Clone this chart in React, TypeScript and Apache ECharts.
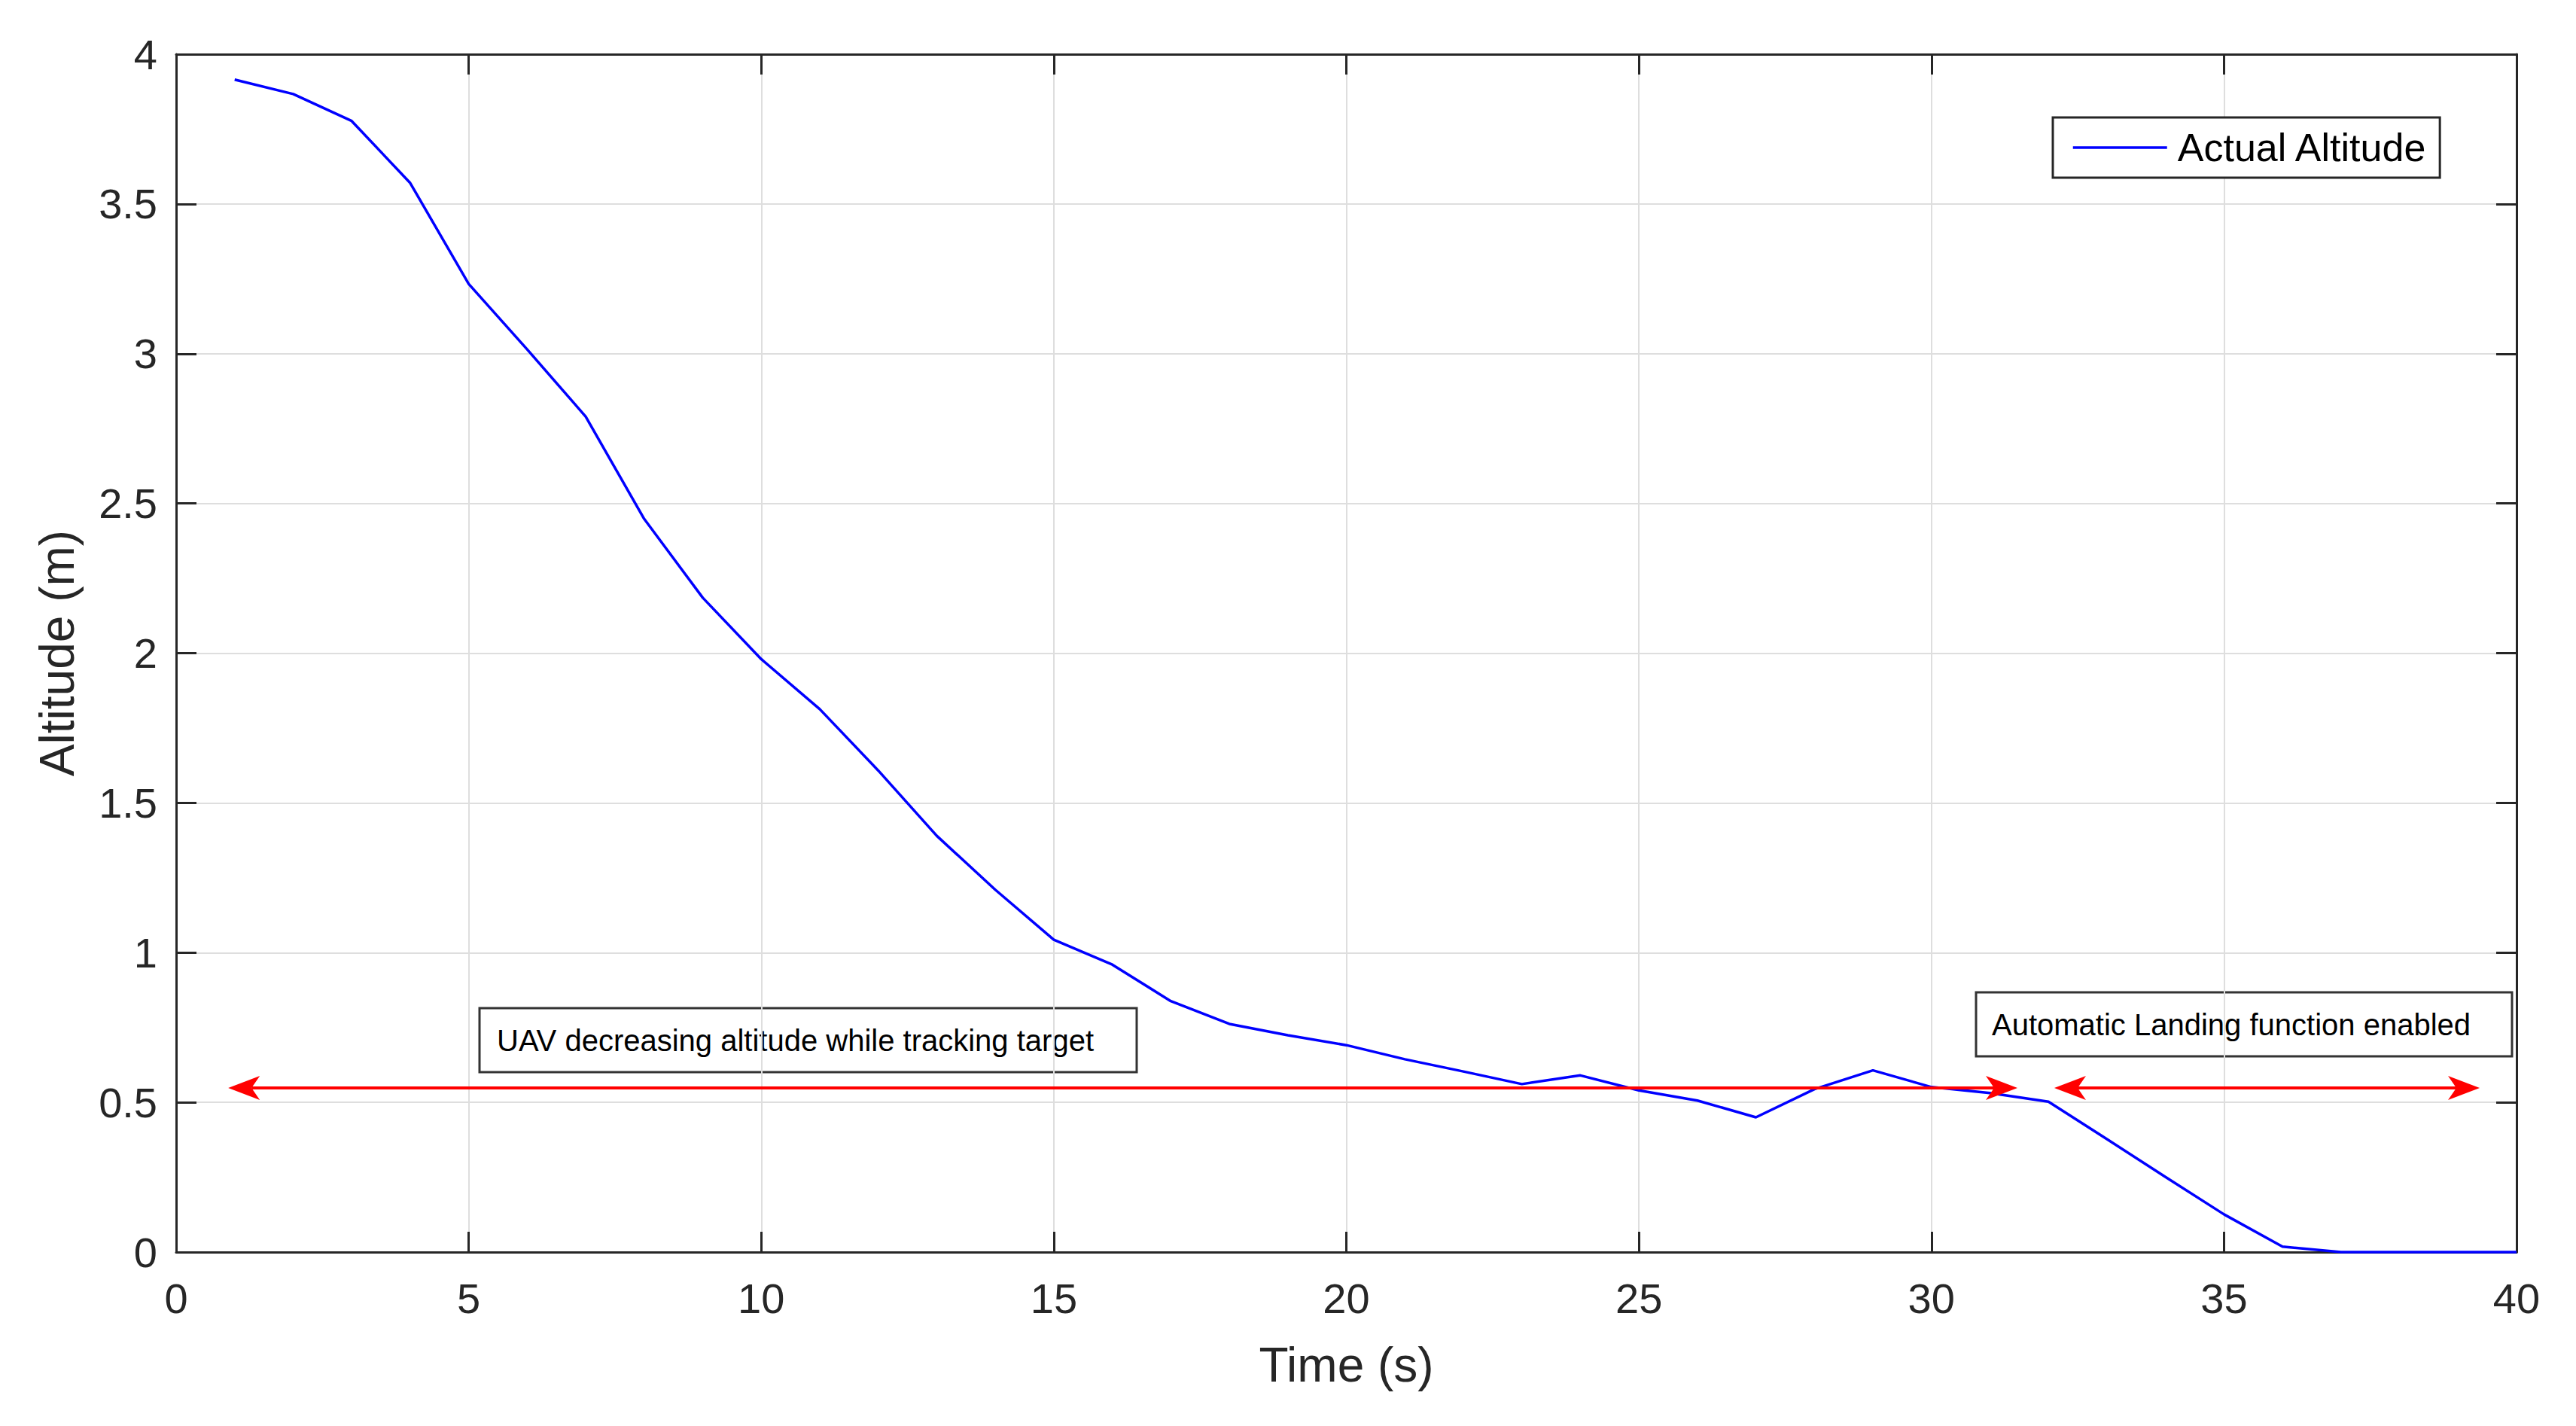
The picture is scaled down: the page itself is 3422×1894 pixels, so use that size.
import React, { useEffect, useRef } from "react";
import * as echarts from "echarts";

// ---- data ----
const timeS = [
  1, 2, 3, 4, 5, 6, 7, 8, 9, 10,
  11, 12, 13, 14, 15, 16, 17, 18, 19, 20,
  21, 22, 23, 24, 25, 26, 27, 28, 29, 30,
  31, 32, 33, 34, 35, 36, 37, 38, 39, 40,
];
const altitudeM = [
  3.915, 3.867, 3.777, 3.57, 3.233, 3.014, 2.79, 2.448, 2.185, 1.98,
  1.813, 1.608, 1.39, 1.21, 1.043, 0.96, 0.838, 0.762, 0.724, 0.691,
  0.644, 0.603, 0.561, 0.59, 0.54, 0.506, 0.45, 0.544, 0.607, 0.551,
  0.531, 0.502, 0.377, 0.251, 0.126, 0.018, 0, 0, 0, 0,
];
// double-headed arrows: [start time, end time, altitude]
const arrowSpans = [
  [0.89, 31.47, 0.548],
  [32.1, 39.37, 0.548],
];
const seriesName = "Actual Altitude";
const xAxisTitle = "Time (s)";
const yAxisTitle = "Altitude (m)";
const annotationTexts = [
  "UAV decreasing altitude while tracking target",
  "Automatic Landing function enabled",
];

const FONT = "'Liberation Sans', Arial, Helvetica, sans-serif";
const AXIS_COLOR = "#262626";

export default function App() {
  const ref = useRef<HTMLDivElement>(null);

  useEffect(() => {
    if (!ref.current) return;
    const chart = echarts.init(ref.current, undefined, { renderer: "svg" });

    const commonX = {
      type: "value",
      min: 0,
      max: 40,
      interval: 5,
    };
    const commonY = {
      type: "value",
      min: 0,
      max: 4,
      interval: 0.5,
    };
    const axisLine = { show: true, onZero: false, lineStyle: { color: AXIS_COLOR, width: 3 } };
    const axisTick = { show: true, inside: true, length: 27, lineStyle: { color: AXIS_COLOR, width: 3 } };
    const splitLine = { show: true, lineStyle: { color: "#dedede", width: 2 } };

    const arrowRender = (params: any, api: any) => {
      const x1 = api.value(0);
      const x2 = api.value(1);
      const y = api.value(2);
      const p1 = api.coord([x1, y]);
      const p2 = api.coord([x2, y]);
      const L = 42;
      const H = 16;
      const N = 11;
      const red = "#ff0000";
      return {
        type: "group",
        children: [
          {
            type: "line",
            shape: { x1: p1[0] + L - N, y1: p1[1], x2: p2[0] - L + N, y2: p2[1] },
            style: { stroke: red, lineWidth: 4 },
          },
          {
            type: "polygon",
            shape: {
              points: [
                [p1[0], p1[1]],
                [p1[0] + L, p1[1] - H],
                [p1[0] + L - N, p1[1]],
                [p1[0] + L, p1[1] + H],
              ],
            },
            style: { fill: red },
          },
          {
            type: "polygon",
            shape: {
              points: [
                [p2[0], p2[1]],
                [p2[0] - L, p2[1] - H],
                [p2[0] - L + N, p2[1]],
                [p2[0] - L, p2[1] + H],
              ],
            },
            style: { fill: red },
          },
        ],
      };
    };

    const boxStyle = { fill: "transparent", stroke: "#333333", lineWidth: 3 };
    const boxText = { fill: "#000", fontSize: 40, fontFamily: FONT };

    chart.setOption({
      animation: false,
      backgroundColor: "#ffffff",
      textStyle: { fontFamily: FONT },
      grid: { left: 234, right: 79, top: 72, bottom: 231, containLabel: false },
      legend: {
        data: [seriesName],
        left: 2727,
        top: 156,
        padding: [14, 16, 14, 25],
        itemWidth: 125,
        itemHeight: 20,
        borderColor: AXIS_COLOR,
        borderWidth: 3,
        backgroundColor: "#ffffff",
        borderRadius: 0,
        itemStyle: { opacity: 0 },
        lineStyle: { color: "#0000ff", width: 3.5 },
        textStyle: { fontSize: 52, color: "#000", fontFamily: FONT, padding: [0, 0, 0, 9] },
      },
      xAxis: [
        {
          ...commonX,
          position: "bottom",
          name: xAxisTitle,
          nameLocation: "middle",
          nameGap: 118,
          nameTextStyle: { fontSize: 64, color: AXIS_COLOR, fontFamily: FONT },
          axisLine,
          axisTick,
          splitLine,
          axisLabel: { fontSize: 56, color: AXIS_COLOR, margin: 33, fontFamily: FONT },
        },
        {
          ...commonX,
          position: "top",
          axisLine,
          axisTick,
          splitLine: { show: false },
          axisLabel: { show: false },
        },
      ],
      yAxis: [
        {
          ...commonY,
          position: "left",
          name: yAxisTitle,
          nameLocation: "middle",
          nameRotate: 90,
          nameGap: 126,
          nameTextStyle: { fontSize: 64, color: AXIS_COLOR, fontFamily: FONT },
          axisLine,
          axisTick,
          splitLine,
          axisLabel: { fontSize: 56, color: AXIS_COLOR, margin: 25, fontFamily: FONT },
        },
        {
          ...commonY,
          position: "right",
          axisLine,
          axisTick,
          splitLine: { show: false },
          axisLabel: { show: false },
        },
      ],
      series: [
        {
          name: seriesName,
          type: "line",
          xAxisIndex: 0,
          yAxisIndex: 0,
          data: timeS.map((t, i) => [t, altitudeM[i]]),
          symbol: "none",
          showSymbol: false,
          color: "#0000ff",
          lineStyle: { color: "#0000ff", width: 3.5 },
          clip: false,
          z: 3,
        },
        {
          name: "arrows",
          type: "custom",
          xAxisIndex: 0,
          yAxisIndex: 0,
          data: arrowSpans,
          encode: { x: [0, 1], y: 2 },
          renderItem: arrowRender,
          clip: false,
          z: 4,
          silent: true,
        },
      ],
      graphic: [
        {
          type: "group",
          z: 10,
          children: [
            { type: "rect", shape: { x: 637, y: 1339, width: 873, height: 85 }, style: boxStyle },
            {
              type: "text",
              x: 660,
              y: 1381.5,
              style: { ...boxText, text: annotationTexts[0], verticalAlign: "middle", align: "left" },
            },
            { type: "rect", shape: { x: 2625, y: 1318, width: 712, height: 85 }, style: boxStyle },
            {
              type: "text",
              x: 2646,
              y: 1360.5,
              style: { ...boxText, text: annotationTexts[1], verticalAlign: "middle", align: "left" },
            },
          ],
        },
      ],
    });

    return () => {
      chart.dispose();
    };
  }, []);

  return (
    <div
      ref={ref}
      style={{ position: "absolute", left: 0, top: 0, width: 3422, height: 1894, background: "#fff" }}
    />
  );
}
